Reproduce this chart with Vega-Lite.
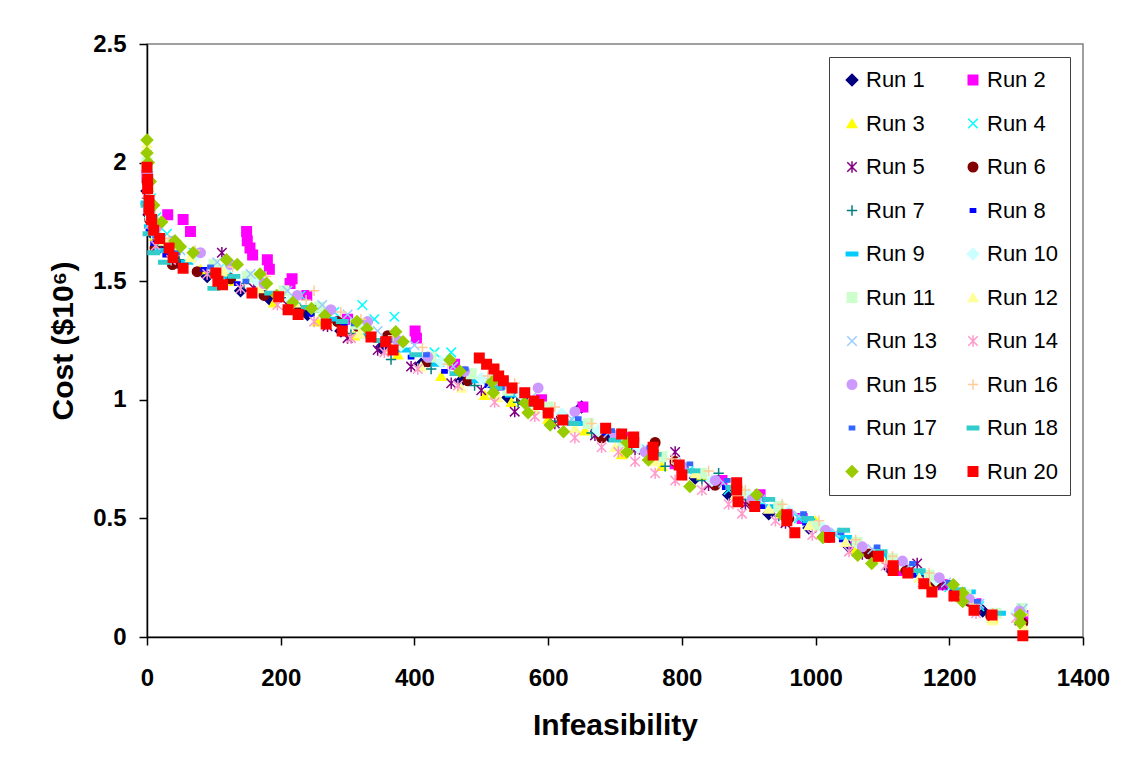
{
"$schema":"https://vega.github.io/schema/vega-lite/v6.json",
"width":936,"height":593,
"autosize":"none",
"padding":{"left":147,"top":44,"right":53,"bottom":130},
"background":"white",
"config":{
 "view":{"stroke":"#808080","strokeWidth":1.5},
 "axis":{"labelFont":"Liberation Sans","labelFontWeight":"bold","labelFontSize":24,"labelColor":"black",
  "titleFont":"Liberation Sans","titleFontWeight":"bold","titleFontSize":30,"titleColor":"black",
  "domainColor":"black","domainWidth":1.5,"tickColor":"black","tickWidth":1.5,"tickSize":8,"grid":false},
 "legend":{"labelFont":"Liberation Sans","labelFontSize":22,"labelColor":"black","symbolSize":90,"symbolStrokeWidth":1.5}
},
"data":{"values":[
{"run":"Run 1","x":0,"y":1.88},{"run":"Run 1","x":3,"y":1.78},{"run":"Run 1","x":8,"y":1.7},{"run":"Run 1","x":18,"y":1.64},{"run":"Run 1","x":45,"y":1.58},{"run":"Run 1","x":90,"y":1.52},{"run":"Run 1","x":140,"y":1.46},{"run":"Run 1","x":185,"y":1.42},{"run":"Run 1","x":240,"y":1.36},{"run":"Run 1","x":290,"y":1.29},{"run":"Run 1","x":350,"y":1.22},{"run":"Run 1","x":410,"y":1.15},{"run":"Run 1","x":470,"y":1.08},{"run":"Run 1","x":540,"y":1.01},{"run":"Run 1","x":600,"y":0.96},{"run":"Run 1","x":650,"y":0.97},{"run":"Run 1","x":690,"y":0.85},{"run":"Run 1","x":760,"y":0.75},{"run":"Run 1","x":820,"y":0.67},{"run":"Run 1","x":870,"y":0.6},{"run":"Run 1","x":930,"y":0.52},{"run":"Run 1","x":990,"y":0.46},{"run":"Run 1","x":1050,"y":0.38},{"run":"Run 1","x":1110,"y":0.29},{"run":"Run 1","x":1160,"y":0.24},{"run":"Run 1","x":1210,"y":0.18},{"run":"Run 1","x":1250,"y":0.11},{"run":"Run 1","x":1308,"y":0.08},
{"run":"Run 2","x":0,"y":1.95},{"run":"Run 2","x":5,"y":1.8},{"run":"Run 2","x":31,"y":1.78},{"run":"Run 2","x":54,"y":1.76},{"run":"Run 2","x":65,"y":1.71},{"run":"Run 2","x":149,"y":1.71},{"run":"Run 2","x":150,"y":1.67},{"run":"Run 2","x":154,"y":1.64},{"run":"Run 2","x":158,"y":1.61},{"run":"Run 2","x":180,"y":1.59},{"run":"Run 2","x":183,"y":1.55},{"run":"Run 2","x":214,"y":1.49},{"run":"Run 2","x":217,"y":1.51},{"run":"Run 2","x":239,"y":1.44},{"run":"Run 2","x":300,"y":1.34},{"run":"Run 2","x":401,"y":1.29},{"run":"Run 2","x":403,"y":1.26},{"run":"Run 2","x":460,"y":1.15},{"run":"Run 2","x":530,"y":1.06},{"run":"Run 2","x":590,"y":1.0},{"run":"Run 2","x":652,"y":0.97},{"run":"Run 2","x":720,"y":0.84},{"run":"Run 2","x":790,"y":0.73},{"run":"Run 2","x":860,"y":0.66},{"run":"Run 2","x":917,"y":0.6},{"run":"Run 2","x":980,"y":0.5},{"run":"Run 2","x":1060,"y":0.38},{"run":"Run 2","x":1130,"y":0.28},{"run":"Run 2","x":1190,"y":0.22},{"run":"Run 2","x":1240,"y":0.14},{"run":"Run 2","x":1310,"y":0.09},
{"run":"Run 3","x":0,"y":2.02},{"run":"Run 3","x":4,"y":1.82},{"run":"Run 3","x":12,"y":1.69},{"run":"Run 3","x":35,"y":1.62},{"run":"Run 3","x":80,"y":1.55},{"run":"Run 3","x":130,"y":1.5},{"run":"Run 3","x":190,"y":1.41},{"run":"Run 3","x":255,"y":1.33},{"run":"Run 3","x":310,"y":1.27},{"run":"Run 3","x":375,"y":1.19},{"run":"Run 3","x":440,"y":1.1},{"run":"Run 3","x":505,"y":1.02},{"run":"Run 3","x":545,"y":0.99},{"run":"Run 3","x":600,"y":0.92},{"run":"Run 3","x":655,"y":0.87},{"run":"Run 3","x":710,"y":0.77},{"run":"Run 3","x":770,"y":0.72},{"run":"Run 3","x":830,"y":0.68},{"run":"Run 3","x":885,"y":0.57},{"run":"Run 3","x":950,"y":0.52},{"run":"Run 3","x":1000,"y":0.49},{"run":"Run 3","x":1060,"y":0.37},{"run":"Run 3","x":1120,"y":0.3},{"run":"Run 3","x":1175,"y":0.22},{"run":"Run 3","x":1215,"y":0.17},{"run":"Run 3","x":1265,"y":0.08},{"run":"Run 3","x":1310,"y":0.11},
{"run":"Run 4","x":2,"y":1.98},{"run":"Run 4","x":6,"y":1.85},{"run":"Run 4","x":14,"y":1.77},{"run":"Run 4","x":30,"y":1.7},{"run":"Run 4","x":70,"y":1.62},{"run":"Run 4","x":120,"y":1.55},{"run":"Run 4","x":170,"y":1.52},{"run":"Run 4","x":230,"y":1.44},{"run":"Run 4","x":280,"y":1.37},{"run":"Run 4","x":322,"y":1.4},{"run":"Run 4","x":340,"y":1.34},{"run":"Run 4","x":370,"y":1.35},{"run":"Run 4","x":430,"y":1.2},{"run":"Run 4","x":455,"y":1.2},{"run":"Run 4","x":520,"y":1.1},{"run":"Run 4","x":580,"y":0.99},{"run":"Run 4","x":640,"y":0.93},{"run":"Run 4","x":700,"y":0.86},{"run":"Run 4","x":760,"y":0.79},{"run":"Run 4","x":810,"y":0.7},{"run":"Run 4","x":870,"y":0.62},{"run":"Run 4","x":920,"y":0.56},{"run":"Run 4","x":975,"y":0.5},{"run":"Run 4","x":1030,"y":0.43},{"run":"Run 4","x":1090,"y":0.35},{"run":"Run 4","x":1140,"y":0.28},{"run":"Run 4","x":1200,"y":0.21},{"run":"Run 4","x":1245,"y":0.13},{"run":"Run 4","x":1305,"y":0.1},
{"run":"Run 5","x":1,"y":1.9},{"run":"Run 5","x":5,"y":1.75},{"run":"Run 5","x":15,"y":1.66},{"run":"Run 5","x":40,"y":1.6},{"run":"Run 5","x":112,"y":1.62},{"run":"Run 5","x":160,"y":1.47},{"run":"Run 5","x":210,"y":1.4},{"run":"Run 5","x":270,"y":1.31},{"run":"Run 5","x":300,"y":1.26},{"run":"Run 5","x":345,"y":1.21},{"run":"Run 5","x":395,"y":1.14},{"run":"Run 5","x":455,"y":1.07},{"run":"Run 5","x":500,"y":1.04},{"run":"Run 5","x":550,"y":0.95},{"run":"Run 5","x":610,"y":0.9},{"run":"Run 5","x":670,"y":0.85},{"run":"Run 5","x":730,"y":0.79},{"run":"Run 5","x":790,"y":0.78},{"run":"Run 5","x":840,"y":0.64},{"run":"Run 5","x":895,"y":0.56},{"run":"Run 5","x":955,"y":0.48},{"run":"Run 5","x":1010,"y":0.44},{"run":"Run 5","x":1070,"y":0.35},{"run":"Run 5","x":1110,"y":0.31},{"run":"Run 5","x":1152,"y":0.31},{"run":"Run 5","x":1190,"y":0.22},{"run":"Run 5","x":1240,"y":0.12},{"run":"Run 5","x":1305,"y":0.07},
{"run":"Run 6","x":0,"y":1.92},{"run":"Run 6","x":4,"y":1.76},{"run":"Run 6","x":12,"y":1.64},{"run":"Run 6","x":38,"y":1.57},{"run":"Run 6","x":75,"y":1.54},{"run":"Run 6","x":125,"y":1.51},{"run":"Run 6","x":175,"y":1.44},{"run":"Run 6","x":228,"y":1.38},{"run":"Run 6","x":285,"y":1.33},{"run":"Run 6","x":315,"y":1.31},{"run":"Run 6","x":360,"y":1.27},{"run":"Run 6","x":420,"y":1.16},{"run":"Run 6","x":480,"y":1.08},{"run":"Run 6","x":560,"y":1.0},{"run":"Run 6","x":620,"y":0.93},{"run":"Run 6","x":680,"y":0.84},{"run":"Run 6","x":760,"y":0.82},{"run":"Run 6","x":790,"y":0.74},{"run":"Run 6","x":850,"y":0.64},{"run":"Run 6","x":905,"y":0.57},{"run":"Run 6","x":960,"y":0.5},{"run":"Run 6","x":1020,"y":0.42},{"run":"Run 6","x":1080,"y":0.35},{"run":"Run 6","x":1135,"y":0.28},{"run":"Run 6","x":1180,"y":0.23},{"run":"Run 6","x":1230,"y":0.15},{"run":"Run 6","x":1262,"y":0.09},{"run":"Run 6","x":1310,"y":0.06},
{"run":"Run 7","x":0,"y":1.85},{"run":"Run 7","x":6,"y":1.72},{"run":"Run 7","x":16,"y":1.65},{"run":"Run 7","x":48,"y":1.59},{"run":"Run 7","x":95,"y":1.53},{"run":"Run 7","x":145,"y":1.49},{"run":"Run 7","x":200,"y":1.43},{"run":"Run 7","x":250,"y":1.37},{"run":"Run 7","x":305,"y":1.28},{"run":"Run 7","x":365,"y":1.17},{"run":"Run 7","x":425,"y":1.13},{"run":"Run 7","x":490,"y":1.06},{"run":"Run 7","x":555,"y":0.99},{"run":"Run 7","x":615,"y":0.91},{"run":"Run 7","x":665,"y":0.86},{"run":"Run 7","x":725,"y":0.8},{"run":"Run 7","x":775,"y":0.72},{"run":"Run 7","x":830,"y":0.66},{"run":"Run 7","x":855,"y":0.69},{"run":"Run 7","x":890,"y":0.58},{"run":"Run 7","x":945,"y":0.51},{"run":"Run 7","x":1000,"y":0.46},{"run":"Run 7","x":1055,"y":0.39},{"run":"Run 7","x":1100,"y":0.33},{"run":"Run 7","x":1165,"y":0.24},{"run":"Run 7","x":1220,"y":0.16},{"run":"Run 7","x":1305,"y":0.09},
{"run":"Run 8","x":0,"y":1.8},{"run":"Run 8","x":3,"y":1.72},{"run":"Run 8","x":10,"y":1.66},{"run":"Run 8","x":28,"y":1.61},{"run":"Run 8","x":85,"y":1.55},{"run":"Run 8","x":135,"y":1.49},{"run":"Run 8","x":195,"y":1.43},{"run":"Run 8","x":245,"y":1.36},{"run":"Run 8","x":295,"y":1.31},{"run":"Run 8","x":355,"y":1.24},{"run":"Run 8","x":395,"y":1.18},{"run":"Run 8","x":445,"y":1.12},{"run":"Run 8","x":510,"y":1.06},{"run":"Run 8","x":565,"y":1.0},{"run":"Run 8","x":625,"y":0.91},{"run":"Run 8","x":685,"y":0.86},{"run":"Run 8","x":745,"y":0.78},{"run":"Run 8","x":805,"y":0.71},{"run":"Run 8","x":865,"y":0.63},{"run":"Run 8","x":920,"y":0.55},{"run":"Run 8","x":985,"y":0.48},{"run":"Run 8","x":1040,"y":0.41},{"run":"Run 8","x":1095,"y":0.33},{"run":"Run 8","x":1150,"y":0.26},{"run":"Run 8","x":1205,"y":0.19},{"run":"Run 8","x":1240,"y":0.15},
{"run":"Run 9","x":0,"y":1.83},{"run":"Run 9","x":5,"y":1.73},{"run":"Run 9","x":20,"y":1.63},{"run":"Run 9","x":60,"y":1.58},{"run":"Run 9","x":110,"y":1.52},{"run":"Run 9","x":160,"y":1.46},{"run":"Run 9","x":220,"y":1.4},{"run":"Run 9","x":275,"y":1.34},{"run":"Run 9","x":330,"y":1.27},{"run":"Run 9","x":385,"y":1.21},{"run":"Run 9","x":435,"y":1.15},{"run":"Run 9","x":495,"y":1.08},{"run":"Run 9","x":545,"y":1.02},{"run":"Run 9","x":595,"y":0.98},{"run":"Run 9","x":645,"y":0.9},{"run":"Run 9","x":705,"y":0.84},{"run":"Run 9","x":755,"y":0.79},{"run":"Run 9","x":815,"y":0.7},{"run":"Run 9","x":875,"y":0.63},{"run":"Run 9","x":935,"y":0.55},{"run":"Run 9","x":990,"y":0.49},{"run":"Run 9","x":1045,"y":0.42},{"run":"Run 9","x":1105,"y":0.34},{"run":"Run 9","x":1160,"y":0.27},{"run":"Run 9","x":1215,"y":0.19},{"run":"Run 9","x":1230,"y":0.19},{"run":"Run 9","x":1275,"y":0.1},
{"run":"Run 10","x":0,"y":1.97},{"run":"Run 10","x":4,"y":1.84},{"run":"Run 10","x":11,"y":1.72},{"run":"Run 10","x":30,"y":1.66},{"run":"Run 10","x":70,"y":1.6},{"run":"Run 10","x":118,"y":1.55},{"run":"Run 10","x":165,"y":1.5},{"run":"Run 10","x":215,"y":1.42},{"run":"Run 10","x":265,"y":1.36},{"run":"Run 10","x":320,"y":1.31},{"run":"Run 10","x":380,"y":1.23},{"run":"Run 10","x":440,"y":1.16},{"run":"Run 10","x":500,"y":1.09},{"run":"Run 10","x":560,"y":1.02},{"run":"Run 10","x":620,"y":0.94},{"run":"Run 10","x":675,"y":0.87},{"run":"Run 10","x":735,"y":0.8},{"run":"Run 10","x":795,"y":0.73},{"run":"Run 10","x":845,"y":0.66},{"run":"Run 10","x":900,"y":0.6},{"run":"Run 10","x":960,"y":0.53},{"run":"Run 10","x":1010,"y":0.46},{"run":"Run 10","x":1065,"y":0.39},{"run":"Run 10","x":1125,"y":0.31},{"run":"Run 10","x":1180,"y":0.24},{"run":"Run 10","x":1235,"y":0.15},{"run":"Run 10","x":1300,"y":0.1},
{"run":"Run 11","x":0,"y":2.0},{"run":"Run 11","x":5,"y":1.78},{"run":"Run 11","x":14,"y":1.7},{"run":"Run 11","x":42,"y":1.63},{"run":"Run 11","x":100,"y":1.57},{"run":"Run 11","x":150,"y":1.52},{"run":"Run 11","x":205,"y":1.46},{"run":"Run 11","x":258,"y":1.39},{"run":"Run 11","x":312,"y":1.32},{"run":"Run 11","x":370,"y":1.24},{"run":"Run 11","x":425,"y":1.18},{"run":"Run 11","x":485,"y":1.11},{"run":"Run 11","x":540,"y":1.04},{"run":"Run 11","x":600,"y":0.97},{"run":"Run 11","x":660,"y":0.9},{"run":"Run 11","x":712,"y":0.82},{"run":"Run 11","x":770,"y":0.76},{"run":"Run 11","x":830,"y":0.69},{"run":"Run 11","x":888,"y":0.61},{"run":"Run 11","x":945,"y":0.55},{"run":"Run 11","x":1000,"y":0.47},{"run":"Run 11","x":1062,"y":0.4},{"run":"Run 11","x":1115,"y":0.33},{"run":"Run 11","x":1170,"y":0.26},{"run":"Run 11","x":1225,"y":0.18},{"run":"Run 11","x":1270,"y":0.1},{"run":"Run 11","x":1308,"y":0.12},
{"run":"Run 12","x":0,"y":2.08},{"run":"Run 12","x":3,"y":1.9},{"run":"Run 12","x":9,"y":1.75},{"run":"Run 12","x":25,"y":1.67},{"run":"Run 12","x":65,"y":1.6},{"run":"Run 12","x":115,"y":1.54},{"run":"Run 12","x":168,"y":1.47},{"run":"Run 12","x":222,"y":1.41},{"run":"Run 12","x":270,"y":1.33},{"run":"Run 12","x":318,"y":1.28},{"run":"Run 12","x":365,"y":1.22},{"run":"Run 12","x":410,"y":1.14},{"run":"Run 12","x":470,"y":1.05},{"run":"Run 12","x":525,"y":1.01},{"run":"Run 12","x":580,"y":0.96},{"run":"Run 12","x":640,"y":0.88},{"run":"Run 12","x":700,"y":0.8},{"run":"Run 12","x":760,"y":0.74},{"run":"Run 12","x":820,"y":0.69},{"run":"Run 12","x":880,"y":0.6},{"run":"Run 12","x":930,"y":0.54},{"run":"Run 12","x":990,"y":0.47},{"run":"Run 12","x":1045,"y":0.4},{"run":"Run 12","x":1100,"y":0.33},{"run":"Run 12","x":1155,"y":0.25},{"run":"Run 12","x":1212,"y":0.18},{"run":"Run 12","x":1265,"y":0.07},{"run":"Run 12","x":1310,"y":0.05},
{"run":"Run 13","x":1,"y":1.93},{"run":"Run 13","x":6,"y":1.79},{"run":"Run 13","x":17,"y":1.71},{"run":"Run 13","x":50,"y":1.63},{"run":"Run 13","x":105,"y":1.58},{"run":"Run 13","x":155,"y":1.53},{"run":"Run 13","x":210,"y":1.46},{"run":"Run 13","x":262,"y":1.4},{"run":"Run 13","x":300,"y":1.36},{"run":"Run 13","x":345,"y":1.29},{"run":"Run 13","x":400,"y":1.23},{"run":"Run 13","x":458,"y":1.14},{"run":"Run 13","x":515,"y":1.07},{"run":"Run 13","x":575,"y":1.01},{"run":"Run 13","x":635,"y":0.92},{"run":"Run 13","x":690,"y":0.86},{"run":"Run 13","x":748,"y":0.79},{"run":"Run 13","x":805,"y":0.72},{"run":"Run 13","x":862,"y":0.65},{"run":"Run 13","x":918,"y":0.58},{"run":"Run 13","x":975,"y":0.51},{"run":"Run 13","x":1030,"y":0.44},{"run":"Run 13","x":1085,"y":0.37},{"run":"Run 13","x":1140,"y":0.3},{"run":"Run 13","x":1195,"y":0.23},{"run":"Run 13","x":1245,"y":0.14},{"run":"Run 13","x":1310,"y":0.12},
{"run":"Run 14","x":0,"y":1.87},{"run":"Run 14","x":4,"y":1.74},{"run":"Run 14","x":13,"y":1.65},{"run":"Run 14","x":36,"y":1.59},{"run":"Run 14","x":90,"y":1.53},{"run":"Run 14","x":140,"y":1.47},{"run":"Run 14","x":195,"y":1.4},{"run":"Run 14","x":250,"y":1.33},{"run":"Run 14","x":305,"y":1.26},{"run":"Run 14","x":355,"y":1.2},{"run":"Run 14","x":405,"y":1.13},{"run":"Run 14","x":465,"y":1.06},{"run":"Run 14","x":520,"y":0.99},{"run":"Run 14","x":580,"y":0.93},{"run":"Run 14","x":640,"y":0.84},{"run":"Run 14","x":680,"y":0.8},{"run":"Run 14","x":705,"y":0.78},{"run":"Run 14","x":730,"y":0.74},{"run":"Run 14","x":760,"y":0.69},{"run":"Run 14","x":790,"y":0.66},{"run":"Run 14","x":830,"y":0.62},{"run":"Run 14","x":870,"y":0.56},{"run":"Run 14","x":890,"y":0.52},{"run":"Run 14","x":940,"y":0.49},{"run":"Run 14","x":995,"y":0.43},{"run":"Run 14","x":1050,"y":0.36},{"run":"Run 14","x":1105,"y":0.3},{"run":"Run 14","x":1160,"y":0.23},{"run":"Run 14","x":1210,"y":0.17},{"run":"Run 14","x":1240,"y":0.1},{"run":"Run 14","x":1300,"y":0.08},
{"run":"Run 15","x":0,"y":1.95},{"run":"Run 15","x":5,"y":1.81},{"run":"Run 15","x":15,"y":1.73},{"run":"Run 15","x":40,"y":1.67},{"run":"Run 15","x":80,"y":1.62},{"run":"Run 15","x":125,"y":1.57},{"run":"Run 15","x":175,"y":1.49},{"run":"Run 15","x":225,"y":1.44},{"run":"Run 15","x":275,"y":1.38},{"run":"Run 15","x":330,"y":1.33},{"run":"Run 15","x":375,"y":1.25},{"run":"Run 15","x":420,"y":1.18},{"run":"Run 15","x":475,"y":1.12},{"run":"Run 15","x":530,"y":1.06},{"run":"Run 15","x":585,"y":1.05},{"run":"Run 15","x":640,"y":0.95},{"run":"Run 15","x":700,"y":0.85},{"run":"Run 15","x":745,"y":0.78},{"run":"Run 15","x":800,"y":0.72},{"run":"Run 15","x":850,"y":0.66},{"run":"Run 15","x":905,"y":0.58},{"run":"Run 15","x":960,"y":0.52},{"run":"Run 15","x":1015,"y":0.45},{"run":"Run 15","x":1070,"y":0.38},{"run":"Run 15","x":1130,"y":0.32},{"run":"Run 15","x":1185,"y":0.25},{"run":"Run 15","x":1230,"y":0.16},{"run":"Run 15","x":1305,"y":0.11},
{"run":"Run 16","x":0,"y":2.05},{"run":"Run 16","x":5,"y":1.86},{"run":"Run 16","x":12,"y":1.76},{"run":"Run 16","x":32,"y":1.68},{"run":"Run 16","x":72,"y":1.63},{"run":"Run 16","x":128,"y":1.56},{"run":"Run 16","x":178,"y":1.52},{"run":"Run 16","x":238,"y":1.42},{"run":"Run 16","x":250,"y":1.46},{"run":"Run 16","x":290,"y":1.37},{"run":"Run 16","x":320,"y":1.34},{"run":"Run 16","x":368,"y":1.27},{"run":"Run 16","x":412,"y":1.22},{"run":"Run 16","x":450,"y":1.15},{"run":"Run 16","x":510,"y":1.1},{"run":"Run 16","x":550,"y":1.07},{"run":"Run 16","x":610,"y":0.97},{"run":"Run 16","x":665,"y":0.9},{"run":"Run 16","x":725,"y":0.84},{"run":"Run 16","x":785,"y":0.75},{"run":"Run 16","x":840,"y":0.7},{"run":"Run 16","x":895,"y":0.62},{"run":"Run 16","x":950,"y":0.56},{"run":"Run 16","x":1005,"y":0.49},{"run":"Run 16","x":1060,"y":0.41},{"run":"Run 16","x":1115,"y":0.34},{"run":"Run 16","x":1170,"y":0.27},{"run":"Run 16","x":1238,"y":0.14},{"run":"Run 16","x":1265,"y":0.1},{"run":"Run 16","x":1310,"y":0.09},
{"run":"Run 17","x":0,"y":1.89},{"run":"Run 17","x":4,"y":1.77},{"run":"Run 17","x":13,"y":1.69},{"run":"Run 17","x":45,"y":1.62},{"run":"Run 17","x":95,"y":1.56},{"run":"Run 17","x":148,"y":1.5},{"run":"Run 17","x":198,"y":1.44},{"run":"Run 17","x":248,"y":1.39},{"run":"Run 17","x":310,"y":1.32},{"run":"Run 17","x":362,"y":1.25},{"run":"Run 17","x":418,"y":1.19},{"run":"Run 17","x":476,"y":1.13},{"run":"Run 17","x":530,"y":1.05},{"run":"Run 17","x":588,"y":0.99},{"run":"Run 17","x":645,"y":0.92},{"run":"Run 17","x":695,"y":0.87},{"run":"Run 17","x":752,"y":0.8},{"run":"Run 17","x":812,"y":0.73},{"run":"Run 17","x":868,"y":0.66},{"run":"Run 17","x":925,"y":0.58},{"run":"Run 17","x":982,"y":0.52},{"run":"Run 17","x":1038,"y":0.44},{"run":"Run 17","x":1092,"y":0.38},{"run":"Run 17","x":1145,"y":0.31},{"run":"Run 17","x":1200,"y":0.23},{"run":"Run 17","x":1242,"y":0.15},
{"run":"Run 18","x":0,"y":1.82},{"run":"Run 18","x":3,"y":1.7},{"run":"Run 18","x":10,"y":1.62},{"run":"Run 18","x":26,"y":1.58},{"run":"Run 18","x":100,"y":1.47},{"run":"Run 18","x":130,"y":1.52},{"run":"Run 18","x":185,"y":1.45},{"run":"Run 18","x":240,"y":1.39},{"run":"Run 18","x":292,"y":1.33},{"run":"Run 18","x":348,"y":1.25},{"run":"Run 18","x":402,"y":1.19},{"run":"Run 18","x":462,"y":1.11},{"run":"Run 18","x":522,"y":1.05},{"run":"Run 18","x":580,"y":0.98},{"run":"Run 18","x":638,"y":0.9},{"run":"Run 18","x":700,"y":0.83},{"run":"Run 18","x":760,"y":0.77},{"run":"Run 18","x":818,"y":0.7},{"run":"Run 18","x":875,"y":0.63},{"run":"Run 18","x":930,"y":0.58},{"run":"Run 18","x":988,"y":0.5},{"run":"Run 18","x":1042,"y":0.45},{"run":"Run 18","x":1098,"y":0.36},{"run":"Run 18","x":1155,"y":0.28},{"run":"Run 18","x":1215,"y":0.2},{"run":"Run 18","x":1270,"y":0.1},
{"run":"Run 19","x":0,"y":2.095},{"run":"Run 19","x":0,"y":2.04},{"run":"Run 19","x":2,"y":2.0},{"run":"Run 19","x":5,"y":1.92},{"run":"Run 19","x":10,"y":1.82},{"run":"Run 19","x":22,"y":1.75},{"run":"Run 19","x":42,"y":1.67},{"run":"Run 19","x":50,"y":1.645},{"run":"Run 19","x":69,"y":1.62},{"run":"Run 19","x":119,"y":1.59},{"run":"Run 19","x":135,"y":1.57},{"run":"Run 19","x":169,"y":1.53},{"run":"Run 19","x":179,"y":1.49},{"run":"Run 19","x":194,"y":1.44},{"run":"Run 19","x":218,"y":1.41},{"run":"Run 19","x":246,"y":1.385},{"run":"Run 19","x":266,"y":1.355},{"run":"Run 19","x":314,"y":1.33},{"run":"Run 19","x":329,"y":1.3},{"run":"Run 19","x":372,"y":1.287},{"run":"Run 19","x":383,"y":1.245},{"run":"Run 19","x":453,"y":1.168},{"run":"Run 19","x":468,"y":1.12},{"run":"Run 19","x":516,"y":1.075},{"run":"Run 19","x":518,"y":1.03},{"run":"Run 19","x":565,"y":0.986},{"run":"Run 19","x":570,"y":0.945},{"run":"Run 19","x":603,"y":0.894},{"run":"Run 19","x":623,"y":0.865},{"run":"Run 19","x":718,"y":0.82},{"run":"Run 19","x":718,"y":0.78},{"run":"Run 19","x":750,"y":0.746},{"run":"Run 19","x":812,"y":0.634},{"run":"Run 19","x":912,"y":0.6},{"run":"Run 19","x":950,"y":0.515},{"run":"Run 19","x":1011,"y":0.42},{"run":"Run 19","x":1063,"y":0.345},{"run":"Run 19","x":1084,"y":0.31},{"run":"Run 19","x":1206,"y":0.22},{"run":"Run 19","x":1220,"y":0.185},{"run":"Run 19","x":1220,"y":0.15},{"run":"Run 19","x":1306,"y":0.094},{"run":"Run 19","x":1306,"y":0.06},
{"run":"Run 20","x":0,"y":1.98},{"run":"Run 20","x":1,"y":1.93},{"run":"Run 20","x":1,"y":1.89},{"run":"Run 20","x":3,"y":1.84},{"run":"Run 20","x":3,"y":1.8},{"run":"Run 20","x":7,"y":1.76},{"run":"Run 20","x":10,"y":1.715},{"run":"Run 20","x":19,"y":1.68},{"run":"Run 20","x":33,"y":1.64},{"run":"Run 20","x":39,"y":1.6},{"run":"Run 20","x":54,"y":1.555},{"run":"Run 20","x":103,"y":1.535},{"run":"Run 20","x":106,"y":1.5},{"run":"Run 20","x":113,"y":1.485},{"run":"Run 20","x":157,"y":1.45},{"run":"Run 20","x":197,"y":1.434},{"run":"Run 20","x":211,"y":1.38},{"run":"Run 20","x":226,"y":1.36},{"run":"Run 20","x":268,"y":1.32},{"run":"Run 20","x":292,"y":1.29},{"run":"Run 20","x":335,"y":1.265},{"run":"Run 20","x":357,"y":1.245},{"run":"Run 20","x":368,"y":1.21},{"run":"Run 20","x":497,"y":1.176},{"run":"Run 20","x":508,"y":1.15},{"run":"Run 20","x":519,"y":1.13},{"run":"Run 20","x":526,"y":1.1},{"run":"Run 20","x":533,"y":1.08},{"run":"Run 20","x":546,"y":1.05},{"run":"Run 20","x":565,"y":1.03},{"run":"Run 20","x":579,"y":0.995},{"run":"Run 20","x":586,"y":0.98},{"run":"Run 20","x":600,"y":0.944},{"run":"Run 20","x":622,"y":0.915},{"run":"Run 20","x":686,"y":0.88},{"run":"Run 20","x":710,"y":0.856},{"run":"Run 20","x":728,"y":0.843},{"run":"Run 20","x":728,"y":0.82},{"run":"Run 20","x":757,"y":0.8},{"run":"Run 20","x":757,"y":0.767},{"run":"Run 20","x":796,"y":0.725},{"run":"Run 20","x":800,"y":0.683},{"run":"Run 20","x":882,"y":0.65},{"run":"Run 20","x":882,"y":0.62},{"run":"Run 20","x":884,"y":0.57},{"run":"Run 20","x":909,"y":0.55},{"run":"Run 20","x":957,"y":0.515},{"run":"Run 20","x":957,"y":0.49},{"run":"Run 20","x":969,"y":0.44},{"run":"Run 20","x":1021,"y":0.42},{"run":"Run 20","x":1094,"y":0.34},{"run":"Run 20","x":1116,"y":0.3},{"run":"Run 20","x":1116,"y":0.28},{"run":"Run 20","x":1138,"y":0.27},{"run":"Run 20","x":1162,"y":0.224},{"run":"Run 20","x":1174,"y":0.19},{"run":"Run 20","x":1207,"y":0.173},{"run":"Run 20","x":1237,"y":0.113},{"run":"Run 20","x":1264,"y":0.093},{"run":"Run 20","x":1310,"y":0.005}
]},
"mark":{"type":"point","filled":true,"opacity":1,"size":90,"strokeWidth":1.5,"clip":false},
"encoding":{
 "x":{"field":"x","type":"quantitative","scale":{"domain":[0,1400],"nice":false,"zero":false},
  "axis":{"title":"Infeasibility","values":[0,200,400,600,800,1000,1200,1400],"format":"d","labelPadding":21,"titlePadding":20,"labelFlush":false}},
 "y":{"field":"y","type":"quantitative","scale":{"domain":[0,2.5],"nice":false,"zero":false},
  "axis":{"title":"Cost ($10⁶)","values":[0,0.5,1,1.5,2,2.5],"format":"~g","labelPadding":13,"titlePadding":14,"labelFlush":false}},
 "fill":{"field":"run","type":"nominal","scale":{
   "domain":["Run 1","Run 2","Run 3","Run 4","Run 5","Run 6","Run 7","Run 8","Run 9","Run 10","Run 11","Run 12","Run 13","Run 14","Run 15","Run 16","Run 17","Run 18","Run 19","Run 20"],
   "range":["#000080","#FF00FF","#FFFF00","#00FFFF","#800080","#800000","#008080","#0000FF","#00CCFF","#CCFFFF","#CCFFCC","#FFFF99","#99CCFF","#FF99CC","#CC99FF","#FFCC99","#3366FF","#33CCCC","#99CC00","#FF0000"]},
  "legend":{"title":null,"orient":"top-right","offset":13,"columns":2,"direction":"horizontal","strokeColor":"#404040","fillColor":"white","padding":12,"symbolOffset":0,"rowPadding":21.5,"columnPadding":25,"labelOffset":3}},
 "stroke":{"field":"run","type":"nominal","scale":{
   "domain":["Run 1","Run 2","Run 3","Run 4","Run 5","Run 6","Run 7","Run 8","Run 9","Run 10","Run 11","Run 12","Run 13","Run 14","Run 15","Run 16","Run 17","Run 18","Run 19","Run 20"],
   "range":["#000080","#FF00FF","#FFFF00","#00FFFF","#800080","#800000","#008080","#0000FF","#00CCFF","#CCFFFF","#CCFFCC","#FFFF99","#99CCFF","#FF99CC","#CC99FF","#FFCC99","#3366FF","#33CCCC","#99CC00","#FF0000"]},
  "legend":{"title":null,"orient":"top-right","offset":13,"columns":2,"direction":"horizontal","strokeColor":"#404040","fillColor":"white","padding":12,"symbolOffset":0,"rowPadding":21.5,"columnPadding":25,"labelOffset":3}},
 "shape":{"field":"run","type":"nominal","scale":{
   "domain":["Run 1","Run 2","Run 3","Run 4","Run 5","Run 6","Run 7","Run 8","Run 9","Run 10","Run 11","Run 12","Run 13","Run 14","Run 15","Run 16","Run 17","Run 18","Run 19","Run 20"],
   "range":["M0,-1.2L1.2,0L0,1.2L-1.2,0Z","square","triangle-up","M-1,-1L1,1M-1,1L1,-1","M-1,-1L1,1M-1,1L1,-1M0,-1.2L0,1.2","circle","M-1.1,0L1.1,0M0,-1.1L0,1.1","M-0.55,-0.35L0.55,-0.35L0.55,0.35L-0.55,0.35Z","M-1.2,-0.35L1.2,-0.35L1.2,0.35L-1.2,0.35Z","M0,-1.2L1.2,0L0,1.2L-1.2,0Z","square","triangle-up","M-1,-1L1,1M-1,1L1,-1","M-1,-1L1,1M-1,1L1,-1M0,-1.2L0,1.2","circle","M-1.1,0L1.1,0M0,-1.1L0,1.1","M-0.55,-0.35L0.55,-0.35L0.55,0.35L-0.55,0.35Z","M-1.2,-0.35L1.2,-0.35L1.2,0.35L-1.2,0.35Z","M0,-1.2L1.2,0L0,1.2L-1.2,0Z","square"]},
  "legend":{"title":null,"orient":"top-right","offset":13,"columns":2,"direction":"horizontal","strokeColor":"#404040","fillColor":"white","padding":12,"symbolOffset":0,"rowPadding":21.5,"columnPadding":25,"labelOffset":3}}
}
}
